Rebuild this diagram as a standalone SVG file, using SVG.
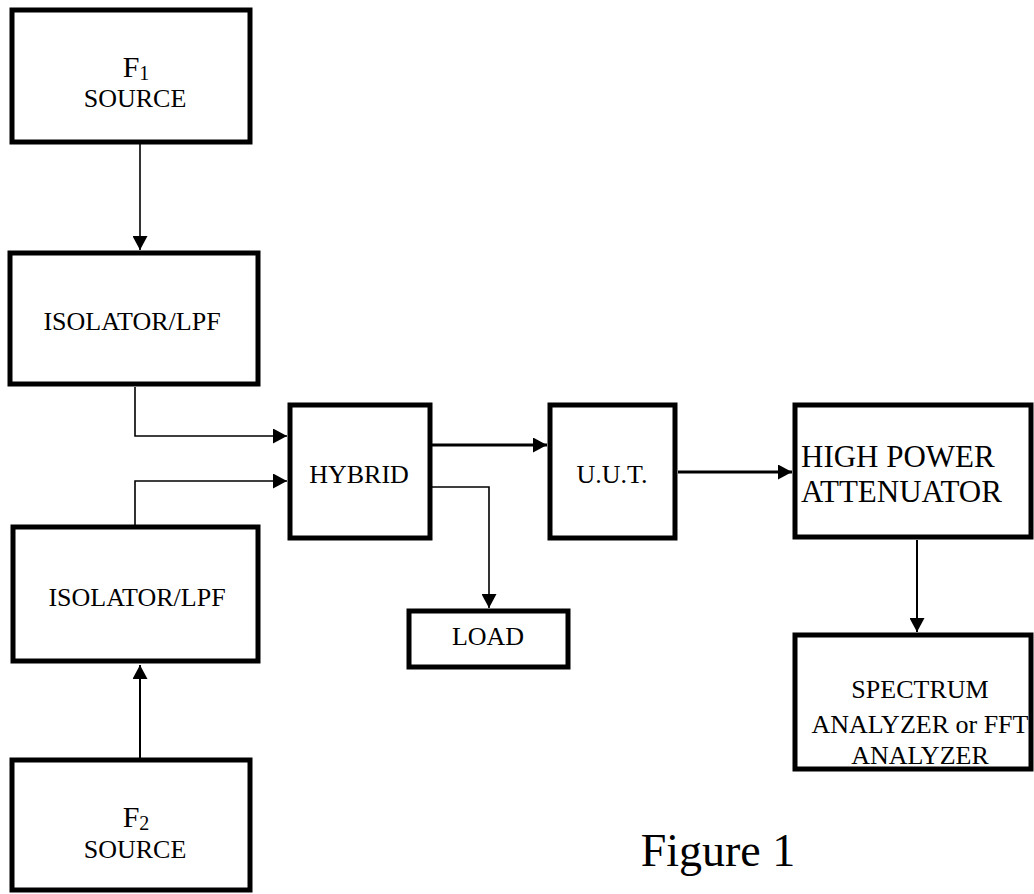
<svg xmlns="http://www.w3.org/2000/svg" width="1034" height="894" viewBox="0 0 1034 894">
  <defs>
    <marker id="arr" markerUnits="userSpaceOnUse" markerWidth="14" markerHeight="15" refX="14" refY="7.5" orient="auto">
      <path d="M0,0 L14,7.5 L0,15 Z" fill="#000"/>
    </marker>
  </defs>
  <style>
    .box { fill: #fff; stroke: #000; stroke-width: 5; }
    .lbl { font-family: "Liberation Serif", "Times New Roman", serif; font-size: 26px; fill: #000; }
    .big { font-family: "Liberation Serif", "Times New Roman", serif; font-size: 31px; fill: #000; }
    .con { fill: none; stroke: #000; stroke-width: 1.6; marker-end: url(#arr); }
    .thick { stroke-width: 3; }
  </style>
  <rect width="1034" height="894" fill="#fff"/>

  <g id="connectors">
    <path class="con" d="M140 144 V250" stroke-width="2"/>
    <path class="con" d="M135 387 V436 H287"/>
    <path class="con" d="M135 525 V481 H287"/>
    <path class="con thick" d="M432 445 H547"/>
    <path class="con" d="M432 487 H489 V608"/>
    <path class="con thick" d="M678 472 H792"/>
    <path class="con" d="M917 540 V632" style="stroke-width:2"/>
    <path class="con" d="M140 758 V665" style="stroke-width:2"/>
  </g>

  <g id="f1-source">
    <rect class="box" x="12" y="10" width="238" height="132"/>
    <text class="lbl" x="136" y="77" text-anchor="middle"><tspan font-size="30">F</tspan><tspan font-size="20" dy="3">1</tspan></text>
    <text class="lbl" x="135" y="107" text-anchor="middle">SOURCE</text>
  </g>

  <g id="isolator-1">
    <rect class="box" x="10" y="253" width="248" height="131"/>
    <text class="lbl" x="132" y="330" text-anchor="middle">ISOLATOR/LPF</text>
  </g>

  <g id="hybrid">
    <rect class="box" x="290" y="405" width="140" height="133"/>
    <text class="lbl" x="359" y="483" text-anchor="middle">HYBRID</text>
  </g>

  <g id="uut">
    <rect class="box" x="550" y="405" width="125" height="133"/>
    <text class="lbl" x="612" y="483" text-anchor="middle">U.U.T.</text>
  </g>

  <g id="high-power-attenuator">
    <rect class="box" x="795" y="405" width="236" height="132"/>
    <text class="big" x="801" y="467">HIGH POWER</text>
    <text class="big" x="801" y="502">ATTENUATOR</text>
  </g>

  <g id="load">
    <rect class="box" x="409" y="611" width="159" height="56"/>
    <text class="lbl" x="488" y="645" text-anchor="middle">LOAD</text>
  </g>

  <g id="isolator-2">
    <rect class="box" x="13" y="527" width="245" height="134"/>
    <text class="lbl" x="137" y="606" text-anchor="middle">ISOLATOR/LPF</text>
  </g>

  <g id="spectrum-analyzer">
    <rect class="box" x="795" y="635" width="236" height="134"/>
    <text class="lbl" x="920" y="698" text-anchor="middle">SPECTRUM</text>
    <text class="lbl" x="920" y="733" text-anchor="middle">ANALYZER or FFT</text>
    <text class="lbl" x="920" y="764" text-anchor="middle">ANALYZER</text>
  </g>

  <g id="f2-source">
    <rect class="box" x="12" y="760" width="238" height="130"/>
    <text class="lbl" x="136" y="827" text-anchor="middle"><tspan font-size="30">F</tspan><tspan font-size="20" dy="3">2</tspan></text>
    <text class="lbl" x="135" y="858" text-anchor="middle">SOURCE</text>
  </g>

  <g id="caption">
    <text class="lbl" x="718" y="866" text-anchor="middle" font-size="46" style="font-size:46px">Figure 1</text>
  </g>
</svg>
